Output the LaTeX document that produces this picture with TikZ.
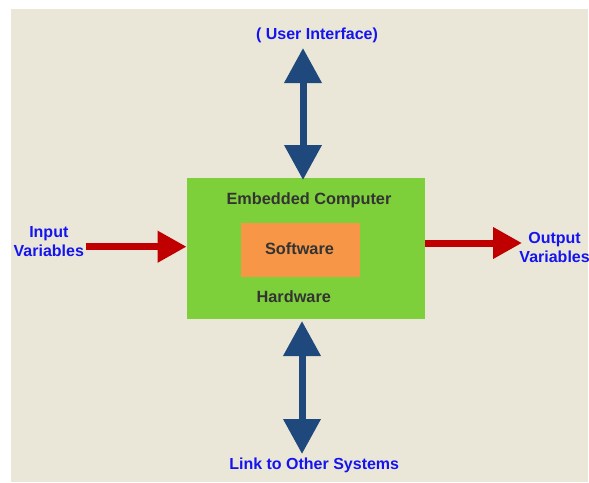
\documentclass[tikz,border=0pt]{standalone}
\usepackage{fontspec}
\setmainfont{Liberation Sans}
\usetikzlibrary{arrows.meta}
\definecolor{bgc}{HTML}{EBE7D8}
\definecolor{greenc}{HTML}{7ED03B}
\definecolor{orangec}{HTML}{F79646}
\definecolor{bluea}{HTML}{1F497D}
\definecolor{reda}{HTML}{C00000}
\definecolor{bluet}{HTML}{1414F0}
\definecolor{darkt}{HTML}{333333}
\tikzset{
  bluelabel/.style={font=\fontsize{16}{19}\selectfont\bfseries, text=bluet, align=center, inner sep=0pt},
  darklabel/.style={font=\fontsize{16.3}{19}\selectfont\bfseries, text=darkt, inner sep=0pt},
  biarrow/.style={draw=bluea, line width=7pt, {Triangle[width=36pt,length=35pt]}-{Triangle[width=36pt,length=35pt]}},
  redarrow/.style={draw=reda, line width=7pt, -{Triangle[width=30pt,length=29pt]}},
}
\begin{document}
\begin{tikzpicture}[x=1pt,y=-1pt]
\useasboundingbox (0,0) rectangle (589,482);
\fill[white] (0,0) rectangle (589,482);
\fill[bgc] (11,9) rectangle (588,482);
% boxes
\node[fill=greenc, minimum width=238pt, minimum height=141pt, inner sep=0pt] (hw) at (305.8,248.5) {};
\node[fill=orangec, minimum width=118.7pt, minimum height=54.6pt, inner sep=0pt] (sw) at (300.2,250) {};
\node[darklabel] (ec) at (309,200.5) {Embedded Computer};
\node[darklabel] (swt) at (299.5,249) {Software};
\node[darklabel] (hwt) at (293.8,297) {Hardware};
% labels
\node[bluelabel] (ui) at (317,35) {( User Interface)};
\node[bluelabel] (in) at (48.8,241.5) {Input\\Variables};
\node[bluelabel] (out) at (554.6,247.5) {Output\\Variables};
\node[bluelabel] (link) at (314.2,465) {Link to Other Systems};
% connector end points
\coordinate (uitip) at (303,48);
\coordinate (hwtop) at (303,180);
\coordinate (hwbot) at (302,321);
\coordinate (linktip) at (302,454);
\coordinate (instart) at (85.6,246.7);
\coordinate (outtip) at (522,243);
% arrows
\draw[biarrow] (uitip) -- (hwtop);
\draw[biarrow] (hwbot) -- (linktip);
\draw[redarrow] (instart) -- (hw.west |- instart);
\draw[redarrow] (hw.east |- outtip) -- (outtip);
\end{tikzpicture}
\end{document}
